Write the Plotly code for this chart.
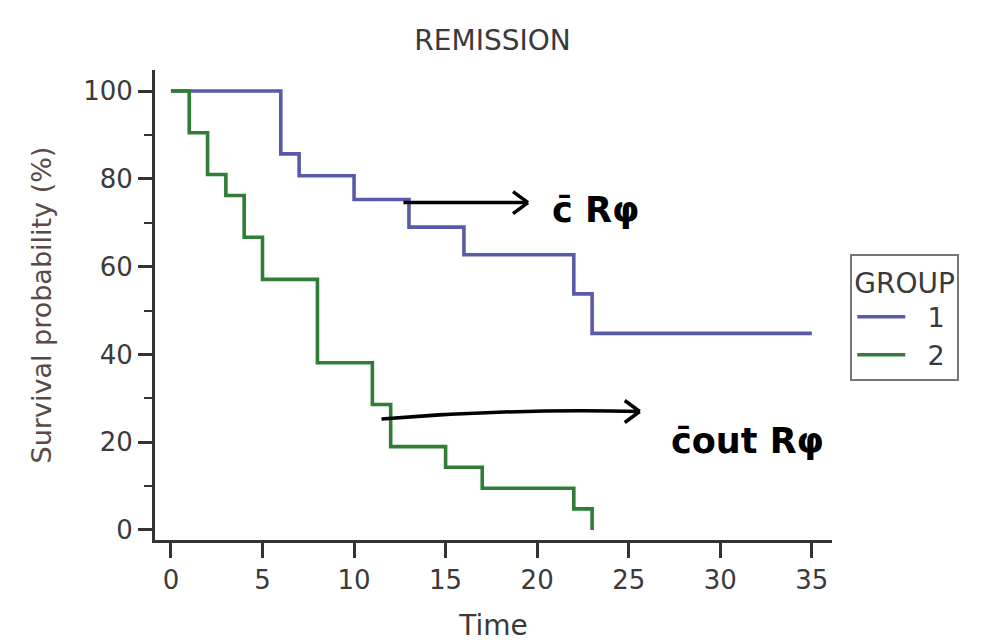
import plotly.graph_objects as go

# Kaplan-Meier step estimates for the REMISSION data, by treatment group
group1_time = [0, 6, 7, 10, 13, 16, 22, 23, 35]
group1_surv = [100, 85.7, 80.7, 75.3, 69.0, 62.7, 53.8, 44.8, 44.8]

group2_time = [0, 1, 2, 3, 4, 5, 8, 11, 12, 15, 17, 22, 23]
group2_surv = [100, 90.5, 81.0, 76.2, 66.7, 57.1, 38.1, 28.6, 19.0, 14.3, 9.5, 4.8, 0]

group_names = ["1", "2"]
x_ticks = [0, 5, 10, 15, 20, 25, 30, 35]
y_ticks = [0, 20, 40, 60, 80, 100]

# hand-written notes: arrow tail, arrow head, bow of the stroke, label position, label text
note_tails = [(12.7, 74.6), (11.5, 25.3)]
note_heads = [(19.5, 74.6), (25.6, 27.0)]
note_bow = [0.0, 0.7]
note_label_pos = [(23.2, 73.0), (31.5, 20.3)]
note_labels = ["c\u0304 R\u03c6", "c\u0304out R\u03c6"]

BLUE = "#5a5aaa"
GREEN = "#2f7d36"
AXIS = "#333333"
TEXT = "#3a3a3a"
FONT = "DejaVu Sans"
PAD = "\u00a0\u00a0"  # gap between legend swatch and label

fig = go.Figure()
fig.add_trace(go.Scatter(x=group1_time, y=group1_surv, mode="lines", name=PAD + group_names[0],
                         line=dict(color=BLUE, width=3.6, shape="hv")))
fig.add_trace(go.Scatter(x=group2_time, y=group2_surv, mode="lines", name=PAD + group_names[1],
                         line=dict(color=GREEN, width=3.6, shape="hv")))

shapes = []
for (tx, ty), (hx, hy), bow in zip(note_tails, note_heads, note_bow):
    mx, my = (tx + hx) / 2, max(ty, hy) + bow
    shapes.append(dict(type="path", xref="x", yref="y",
                       path=f"M {tx},{ty} Q {mx},{my} {hx},{hy}",
                       line=dict(color="black", width=3.5)))
    for dy in (-11, 11):
        shapes.append(dict(type="line", xref="x", yref="y",
                           xsizemode="pixel", ysizemode="pixel",
                           xanchor=hx, yanchor=hy,
                           x0=-15, y0=dy, x1=0, y1=0,
                           line=dict(color="black", width=3.5)))

annotations = [dict(x=px, y=py, xref="x", yref="y", text=f"<b>{t}</b>",
                    showarrow=False,
                    font=dict(family="DejaVu Sans", size=35, color="black"))
               for (px, py), t in zip(note_label_pos, note_labels)]

fig.update_layout(
    width=990, height=642,
    margin=dict(l=155, r=158, t=70, b=102, autoexpand=False),
    paper_bgcolor="white", plot_bgcolor="white",
    font=dict(family=FONT, color=AXIS, size=25),
    title=dict(text="REMISSION", x=0.4975, xanchor="center", y=0.937, yanchor="middle",
               font=dict(family=FONT, size=28, color=TEXT)),
    showlegend=True,
    legend=dict(title=dict(text="GROUP", font=dict(size=28, color=TEXT)),
                x=1.027, xanchor="left", y=0.608, yanchor="top",
                bordercolor="#777777", borderwidth=2, bgcolor="white",
                font=dict(size=27, color=TEXT), tracegroupgap=0,
                itemwidth=48),
    shapes=shapes,
    annotations=annotations,
)

fig.update_xaxes(range=[-0.87, 36.1], tickvals=x_ticks, showgrid=False, zeroline=False,
                 showline=True, linecolor=AXIS, linewidth=3, automargin=False,
                 ticks="outside", ticklen=15, tickwidth=2.5, tickcolor=AXIS,
                 tickfont=dict(size=26, color=TEXT),
                 title=dict(text="Time", font=dict(size=28, color=TEXT), standoff=24))
fig.update_yaxes(range=[-2.28, 104.8], tickvals=y_ticks, showgrid=False, zeroline=False,
                 showline=True, linecolor=AXIS, linewidth=3, automargin=False,
                 ticks="outside", ticklen=14, tickwidth=2.5, tickcolor=AXIS,
                 minor=dict(dtick=10, tick0=0, ticks="outside", ticklen=8,
                            tickwidth=2, tickcolor=AXIS, showgrid=False),
                 tickfont=dict(size=26, color=TEXT),
                 title=dict(text="Survival probability (%)",
                            font=dict(size=27, color="#5a4a46"), standoff=24))

fig.write_html("out.html")
